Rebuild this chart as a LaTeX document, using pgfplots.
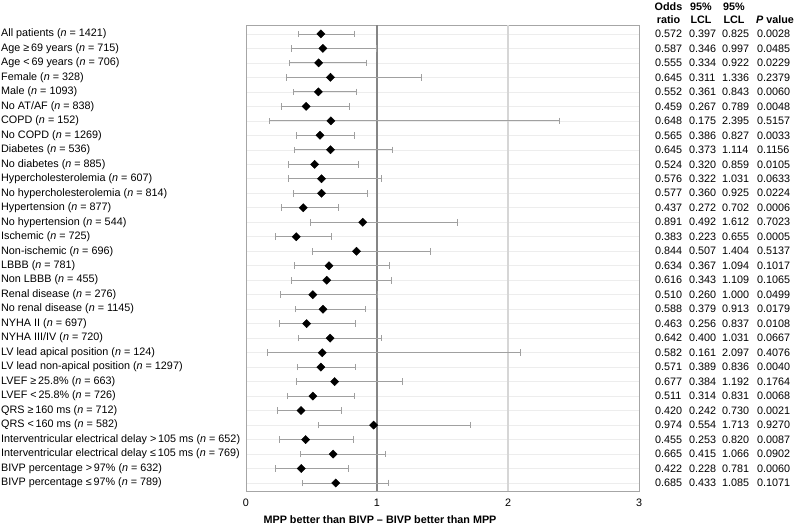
\documentclass[border=0pt]{standalone}
\usepackage{fontspec}
\setmainfont{Liberation Sans}
\usepackage{pgfplots}
\usepackage{pgfplotstable}
\pgfplotsset{compat=1.18}

\definecolor{framegray}{HTML}{A6A6A6}
\definecolor{refdark}{HTML}{858585}
\definecolor{reflight}{HTML}{D6D6D6}
\definecolor{rowgrid}{HTML}{EDEDED}
\definecolor{ebargray}{HTML}{A0A0A0}

% Subgroup odds ratios (MPP vs BIVP) with 95% limits and P values
\pgfplotstableread[col sep=comma]{
row,label,or,lcl,ucl,p
0,All patients (\textit{n} = 1421),0.572,0.397,0.825,0.0028
1,Age ≥\,69 years (\textit{n} = 715),0.587,0.346,0.997,0.0485
2,Age <\,69 years (\textit{n} = 706),0.555,0.334,0.922,0.0229
3,Female (\textit{n} = 328),0.645,0.311,1.336,0.2379
4,Male (\textit{n} = 1093),0.552,0.361,0.843,0.0060
5,No AT/AF (\textit{n} = 838),0.459,0.267,0.789,0.0048
6,COPD (\textit{n} = 152),0.648,0.175,2.395,0.5157
7,No COPD (\textit{n} = 1269),0.565,0.386,0.827,0.0033
8,Diabetes (\textit{n} = 536),0.645,0.373,1.114,0.1156
9,No diabetes (\textit{n} = 885),0.524,0.320,0.859,0.0105
10,Hypercholesterolemia (\textit{n} = 607),0.576,0.322,1.031,0.0633
11,No hypercholesterolemia (\textit{n} = 814),0.577,0.360,0.925,0.0224
12,Hypertension (\textit{n} = 877),0.437,0.272,0.702,0.0006
13,No hypertension (\textit{n} = 544),0.891,0.492,1.612,0.7023
14,Ischemic (\textit{n} = 725),0.383,0.223,0.655,0.0005
15,Non-ischemic (\textit{n} = 696),0.844,0.507,1.404,0.5137
16,LBBB (\textit{n} = 781),0.634,0.367,1.094,0.1017
17,Non LBBB (\textit{n} = 455),0.616,0.343,1.109,0.1065
18,Renal disease (\textit{n} = 276),0.510,0.260,1.000,0.0499
19,No renal disease (\textit{n} = 1145),0.588,0.379,0.913,0.0179
20,NYHA II (\textit{n} = 697),0.463,0.256,0.837,0.0108
21,NYHA III/IV (\textit{n} = 720),0.642,0.400,1.031,0.0667
22,LV lead apical position (\textit{n} = 124),0.582,0.161,2.097,0.4076
23,LV lead non-apical position (\textit{n} = 1297),0.571,0.389,0.836,0.0040
24,LVEF ≥\,25.8\% (\textit{n} = 663),0.677,0.384,1.192,0.1764
25,LVEF <\,25.8\% (\textit{n} = 726),0.511,0.314,0.831,0.0068
26,QRS ≥\,160 ms (\textit{n} = 712),0.420,0.242,0.730,0.0021
27,QRS <\,160 ms (\textit{n} = 582),0.974,0.554,1.713,0.9270
28,Interventricular electrical delay >\,105 ms (\textit{n} = 652),0.455,0.253,0.820,0.0087
29,Interventricular electrical delay ≤\,105 ms (\textit{n} = 769),0.665,0.415,1.066,0.0902
30,BIVP percentage >\,97\% (\textit{n} = 632),0.422,0.228,0.781,0.0060
31,BIVP percentage ≤\,97\% (\textit{n} = 789),0.685,0.433,1.085,0.1071
}\subgroups

\pgfplotsset{
  tablecol/.style={draw=none, mark=none, forget plot,
    nodes near coords, point meta=explicit symbolic,
    nodes near coords style={anchor=west, inner sep=0pt, xshift=#1, text=black}},
}

\begin{document}
\begin{tikzpicture}[font=\fontsize{10.8bp}{13bp}\selectfont]
\useasboundingbox (0,0) rectangle (794bp,529bp);
\begin{axis}[
  at={(246bp,38bp)}, anchor=south west,
  width=393bp, height=465.5bp, scale only axis,
  xmin=0, xmax=3, ymin=-0.58, ymax=31.55, y dir=reverse,
  xtick={0,1,2,3}, ytick={0,...,31},
  yticklabels from table={\subgroups}{label},
  yticklabel style={anchor=west, inner sep=0pt, xshift=-245bp},
  xticklabel style={anchor=north, inner sep=0pt, yshift=-8bp},
  tick style={draw=none},
  ymajorgrids, grid style={rowgrid, line width=0.6bp},
  axis line style={framegray, line width=0.8bp},
  clip=false,
  /pgf/number format/assume math mode=true,
]
% reference lines at OR = 1 and OR = 2
\draw[refdark, line width=1.3bp] (axis cs:1,-0.58) -- (axis cs:1,31.55);
\draw[reflight, line width=1.5bp] (axis cs:2,-0.58) -- (axis cs:2,31.55);

% odds ratios with confidence intervals
\addplot[black, only marks, mark=square*, mark size=2.9bp, mark options={rotate=45},
  error bars/.cd, x dir=both, x explicit,
  error mark=|,
  error bar style={ebargray, line width=0.8bp},
  error mark options={ebargray, mark size=3.3bp, line width=0.8bp}]
  table[x=or, y=row,
        x error plus expr=\thisrow{ucl}-\thisrow{or},
        x error minus expr=\thisrow{or}-\thisrow{lcl}] {\subgroups};

% numeric columns to the right of the plot
\addplot[tablecol=16bp]  table[x expr=3, y=row, meta=or]  {\subgroups};
\addplot[tablecol=50bp]  table[x expr=3, y=row, meta=lcl] {\subgroups};
\addplot[tablecol=83bp]  table[x expr=3, y=row, meta=ucl] {\subgroups};
\addplot[tablecol=118bp] table[x expr=3, y=row, meta=p]   {\subgroups};
\end{axis}

% column headers
\begin{scope}[every node/.style={font=\fontsize{10.8bp}{13bp}\selectfont\bfseries, align=center}]
\node at (668.5bp,515.5bp) {Odds\\ratio};
\node at (701bp,515.5bp) {95\%\\LCL};
\node at (734bp,515.5bp) {95\%\\LCL};
\node at (775bp,509bp) {\textit{P} value};
\node at (380bp,9bp) {MPP better than BIVP – BIVP better than MPP};
\end{scope}
\end{tikzpicture}
\end{document}
